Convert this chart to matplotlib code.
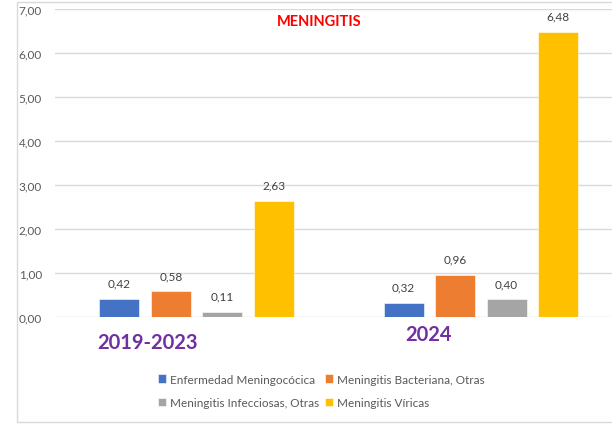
import numpy as np
import matplotlib.pyplot as plt
from matplotlib.patches import Rectangle

# ---------- data ----------
groups = ["2019-2023", "2024"]
series = ["Enfermedad Meningocócica", "Meningitis Bacteriana, Otras",
          "Meningitis Infecciosas, Otras", "Meningitis Víricas"]
colors = ["#4472C4", "#ED7D31", "#A5A5A5", "#FFC000"]
meningococica = [0.42, 0.32]
bacteriana = [0.58, 0.96]
infecciosas = [0.11, 0.40]
viricas = [2.63, 6.48]
yticks = [0, 1, 2, 3, 4, 5, 6, 7]

values = [meningococica, bacteriana, infecciosas, viricas]

plt.rcParams["font.family"] = ["Lato", "DejaVu Sans"]

W, H = 612, 427
fig = plt.figure(figsize=(W / 100, H / 100), dpi=100)

# outer chart frame (right edge runs past the crop)
fig.patches.append(Rectangle((17 / W, 1 - 423 / H), 700 / W, 420 / H,
                             transform=fig.transFigure, fill=False,
                             edgecolor="#D9D9D9", lw=1))

# plot area: x 54.5..623 px, y 10..318 px
ax = fig.add_axes([54.5 / W, (H - 318) / H, 568.5 / W, 308 / H])

x = np.arange(len(groups))
step = 0.1814
width = 0.1406
for i, (name, vals, c) in enumerate(zip(series, values, colors)):
    pos = x + (i - 1.5) * step
    bars = ax.bar(pos, vals, width, color=c, label=name, zorder=3,
                  edgecolor="white", linewidth=0.4)
    for b, v in zip(bars, vals):
        ax.annotate(f"{v:.2f}".replace(".", ","),
                    (b.get_x() + b.get_width() / 2, v),
                    xytext=(0, 7.5), textcoords="offset points",
                    ha="center", va="bottom", fontsize=8.5, color="#404040")

ax.set_xlim(-0.5, 1.5)
ax.set_ylim(0, 7)
ax.set_yticks(yticks)
ax.set_yticklabels([f"{t:.2f}".replace(".", ",") for t in yticks])
ax.set_xticks([])
ax.tick_params(axis="y", length=0, pad=9, labelsize=8.5, labelcolor="#595959")
ax.grid(axis="y", color="#D9D9D9", lw=1, zorder=0)
for s in ax.spines.values():
    s.set_visible(False)
ax.set_facecolor("none")

# title
fig.text(319 / W, 1 - 22 / H, "MENINGITIS", color="#FF0000", fontweight="bold",
         fontsize=10.5, ha="center", va="center")

# group labels (placed text boxes)
fig.text(148 / W, 1 - 343 / H, groups[0], color="#7030A0", fontweight="bold",
         fontsize=14.5, ha="center", va="center")
fig.text(428 / W, 1 - 335 / H, groups[1], color="#7030A0", fontweight="bold",
         fontsize=14.5, ha="center", va="center")

# legend, filled row-wise
h, l = ax.get_legend_handles_labels()
order = [0, 2, 1, 3]
fig.legend([h[k] for k in order], [l[k] for k in order], ncol=2,
           loc="center", bbox_to_anchor=(321 / W, 1 - 392 / H),
           frameon=False, fontsize=8.5, labelcolor="#595959",
           handlelength=0.7, handleheight=0.7, handletextpad=0.3,
           columnspacing=0.5, labelspacing=1.1)

fig.savefig("out.png", dpi=100)
